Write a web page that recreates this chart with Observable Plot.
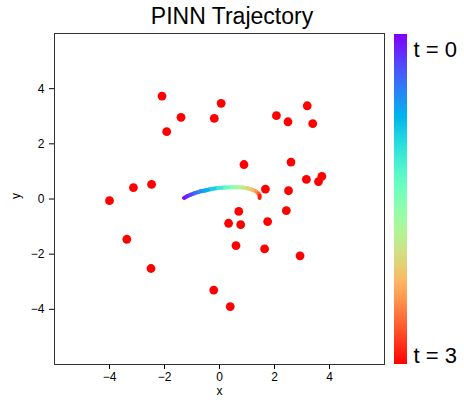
<!DOCTYPE html>
<html>
<head>
<meta charset="utf-8">
<script src="https://cdn.jsdelivr.net/npm/d3@7"></script>
<script src="https://cdn.jsdelivr.net/npm/@observablehq/plot@0.6"></script>
<style>
  body { margin: 0; background: #fff; }
  #wrap { position: relative; width: 464px; height: 404px; font-family: "Liberation Sans", Arial, sans-serif; }
  #title { position: absolute; left: 0; top: 2px; width: 464px; text-align: center; font-size: 23px; line-height: 28px; color: #000; }
  #main { position: absolute; left: 0; top: 0; }
  #cbar { position: absolute; left: 394px; top: 0; }
</style>
</head>
<body>
<div id="wrap">
  <div id="main"></div>
  <div id="cbar"></div>
  <div id="title">PINN Trajectory</div>
</div>
<script>
// Obstacle points (red dots)
const obsX = [-4.00, -3.13, -2.47, -2.09, -1.92, -1.40, -0.19, 0.06, 2.07, 2.49, 3.19, 3.39,
              0.89, 2.60, 3.16, 3.72, 3.60, 1.67, 2.51, 0.70, 0.33, 0.77, 1.75, 2.43,
              0.60, 1.64, 2.93, -0.21, 0.39, -3.37, -2.49];
const obsY = [-0.06, 0.41, 0.53, 3.73, 2.44, 2.96, 2.92, 3.47, 3.02, 2.80, 3.38, 2.73,
              1.25, 1.34, 0.71, 0.82, 0.63, 0.36, 0.30, -0.45, -0.88, -0.93, -0.82, -0.42,
              -1.69, -1.81, -2.06, -3.30, -3.90, -1.46, -2.52];

// Trajectory waypoints (x, y, time)
const trajX = [-1.29, -1.18, -1.06, -0.90, -0.72, -0.52, -0.30, -0.05, 0.20, 0.45, 0.65, 0.85, 1.02, 1.18, 1.32, 1.42, 1.46, 1.46];
const trajY = [0.04, 0.10, 0.15, 0.21, 0.27, 0.31, 0.36, 0.40, 0.42, 0.43, 0.43, 0.42, 0.39, 0.34, 0.28, 0.20, 0.12, 0.04];
const trajT = [0, 0.1, 0.2, 0.35, 0.5, 0.65, 0.8, 1.0, 1.2, 1.45, 1.65, 1.85, 2.0, 2.15, 2.3, 2.5, 2.75, 3.0];

const tickValues = [-4, -2, 0, 2, 4];
const axisDomain = [-6, 6];
const timeDomain = [0, 3];
const cbarLabels = ["t = 0", "t = 3"];

// matplotlib "rainbow" colormap
function rainbow(u) {
  const r = Math.min(1, Math.abs(2 * u - 0.5));
  const g = Math.sin(Math.PI * u);
  const b = Math.cos(Math.PI * u / 2);
  return d3.rgb(r * 255, g * 255, b * 255).formatHex();
}
const colorScale = {type: "linear", domain: timeDomain, interpolate: () => rainbow};

const obstacles = obsX.map((x, i) => ({x, y: obsY[i]}));
const segments = trajX.slice(0, -1).map((x, i) => ({
  x1: x, y1: trajY[i], x2: trajX[i + 1], y2: trajY[i + 1], t: (trajT[i] + trajT[i + 1]) / 2
}));

const font = "Liberation Sans, Arial, sans-serif";

const main = Plot.plot({
  width: 464,
  height: 404,
  marginTop: 33,
  marginBottom: 40,
  marginLeft: 54,
  marginRight: 80,
  style: {fontFamily: font, fontSize: "12px", background: "#fff", color: "#000"},
  x: {domain: axisDomain, ticks: tickValues, tickSize: 5, tickPadding: 3, label: null},
  y: {domain: axisDomain, ticks: tickValues, tickSize: 5, tickPadding: 5, label: null},
  color: colorScale,
  marks: [
    Plot.frame({stroke: "#333", strokeWidth: 1}),
    Plot.link(segments, {x1: "x1", y1: "y1", x2: "x2", y2: "y2", stroke: "t", strokeWidth: 4, strokeLinecap: "round"}),
    Plot.dot(obstacles, {x: "x", y: "y", r: 4.4, fill: "#ff0000", stroke: "none"}),
    Plot.text(["x"], {frameAnchor: "bottom", dy: 30, fontSize: 12}),
    Plot.text(["y"], {frameAnchor: "left", dx: -38, rotate: -90, fontSize: 12})
  ]
});
document.getElementById("main").appendChild(main);

const bandCount = 330;
const bands = d3.range(0, bandCount).map(i => i * 3 / bandCount);
const cbar = Plot.plot({
  width: 70,
  height: 404,
  marginTop: 34,
  marginBottom: 40,
  marginLeft: 0,
  marginRight: 57,
  style: {fontFamily: font, background: "transparent", color: "#000", overflow: "visible"},
  x: {domain: [0, 1], axis: null},
  y: {domain: timeDomain, reverse: true, axis: null},
  color: colorScale,
  marks: [
    Plot.rect(bands, {x1: 0, x2: 1, y1: d => d, y2: d => Math.min(3, d + 6 / bandCount), fill: d => d, shapeRendering: "crispEdges"}),
    Plot.text([cbarLabels[0]], {x: 1, y: timeDomain[0], dx: 6, dy: 15, textAnchor: "start", fontSize: 22}),
    Plot.text([cbarLabels[1]], {x: 1, y: timeDomain[1], dx: 6, dy: -9, textAnchor: "start", fontSize: 22})
  ]
});
document.getElementById("cbar").appendChild(cbar);
</script>
</body>
</html>
